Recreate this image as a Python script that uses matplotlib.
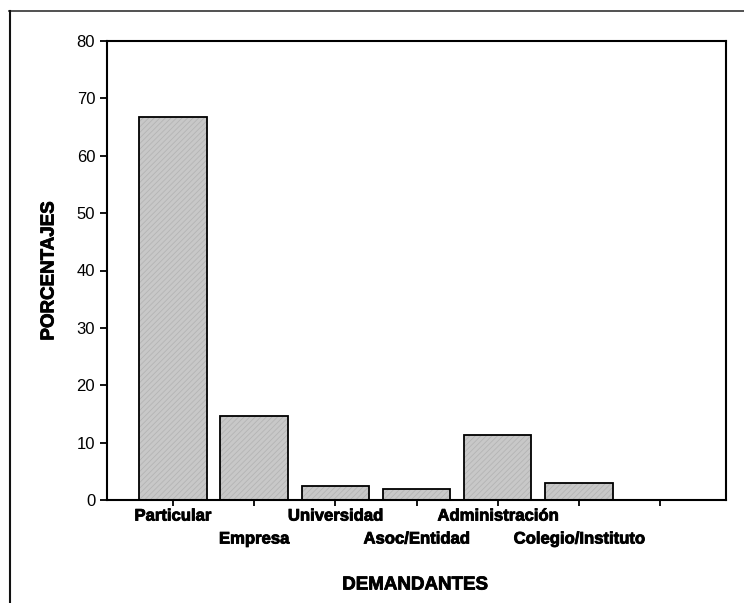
import matplotlib.pyplot as plt
import matplotlib.patheffects as pe

plt.rcParams['font.family'] = ['Liberation Sans', 'DejaVu Sans']
plt.rcParams['hatch.linewidth'] = 0.6

categorias = ["Particular", "Empresa", "Universidad", "Asoc/Entidad",
              "Administración", "Colegio/Instituto", ""]
porcentajes = [66.7, 14.7, 2.4, 1.9, 11.4, 2.9, 0]
y_ticks = [0, 10, 20, 30, 40, 50, 60, 70, 80]

fig = plt.figure(figsize=(7.44, 6.03), dpi=100)
# marco exterior (solo arriba e izquierda)
fig.add_artist(plt.Line2D([0.012, 1.0], [0.982, 0.982], color="#333333", lw=1.2))
fig.add_artist(plt.Line2D([0.013, 0.013], [0.0, 0.982], color="#111111", lw=1.5))

ax = fig.add_axes([107 / 744, 1 - 500 / 603, 619 / 744, 459 / 603])
x = list(range(len(categorias)))

# relleno gris con trama fina, luego el borde negro
ax.bar(x, porcentajes, width=0.83, color="#c8c8c8", edgecolor="#b4b4b4",
       hatch="//////", linewidth=0)
ax.bar(x, porcentajes, width=0.83, fill=False, edgecolor="black", linewidth=1.3)

ax.set_xlim(-0.81, 6.81)
ax.set_ylim(0, 80)
ax.set_yticks(y_ticks)
ax.tick_params(axis="y", labelsize=12, length=5, width=1.3, direction="out")
ax.tick_params(axis="x", length=4, width=1.3, direction="out", pad=4)
ax.set_xticks(x)
ax.set_xticklabels([])
for s in ax.spines.values():
    s.set_linewidth(1.5)

grueso = [pe.withStroke(linewidth=0.6, foreground="black")]

# etiquetas escalonadas
for i, nombre in enumerate(categorias):
    off = -0.035 if i % 2 == 0 else -0.085
    ax.text(i, off, nombre, transform=ax.get_xaxis_transform(), ha="center",
            va="center", fontsize=12, fontweight="bold", path_effects=grueso)

fig.text(415 / 744, 1 - 585 / 603, "DEMANDANTES", ha="center", va="center",
         fontsize=13.5, fontweight="bold", path_effects=grueso)
fig.text(49 / 744, 1 - 271 / 603, "PORCENTAJES", ha="center", va="center",
         rotation=90, fontsize=13.5, fontweight="bold", path_effects=grueso)

plt.savefig("out.png")
